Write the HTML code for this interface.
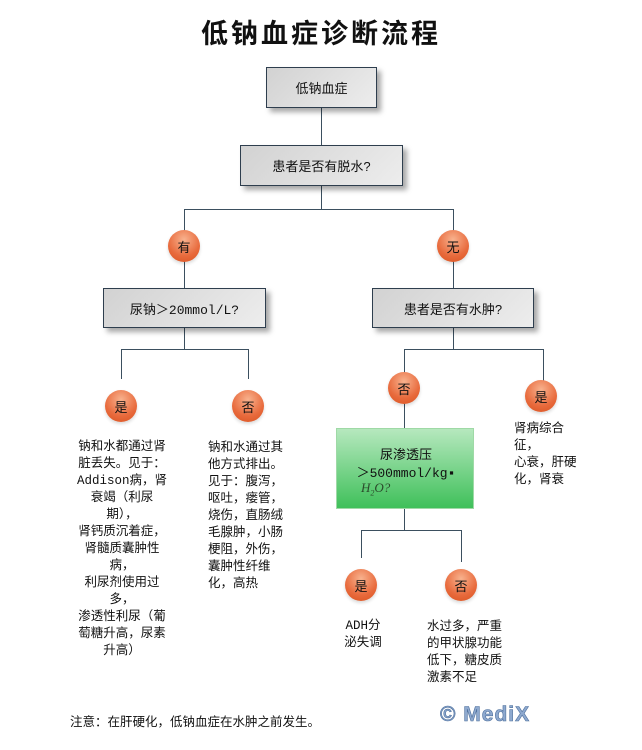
<!DOCTYPE html>
<html><head><meta charset="utf-8"><style>
body{margin:0;width:642px;height:750px;background:#fff;position:relative;overflow:hidden;font-family:"Liberation Sans","Noto Sans CJK SC",sans-serif;color:#111}
.a{position:absolute}
.m{font-family:"Liberation Mono","Noto Sans CJK SC",monospace}
.box{position:absolute;box-sizing:border-box;border:1px solid #2e3e4e;background:linear-gradient(135deg,#d2d2d2,#ededed);box-shadow:4px 4px 5px rgba(0,0,0,0.35);display:flex;align-items:center;justify-content:center;font-size:13px}
.c{position:absolute;width:32px;height:32px;border-radius:50%;background:radial-gradient(circle at 50% 30%,#f8b28e,#e86a3c 60%,#d9521f);display:flex;align-items:center;justify-content:center;font-size:13px;color:#111;box-shadow:0 2px 3px rgba(0,0,0,0.15)}
.l{position:absolute;background:#3b4f5f}
.t{position:absolute;font-size:12.5px;line-height:17px;white-space:nowrap}
</style></head><body>
<div class="a" style="left:0;width:642px;top:12px;text-align:center;font-size:27px;font-weight:bold;letter-spacing:3px">低钠血症诊断流程</div>

<div class="l" style="left:321px;top:107px;width:1px;height:38px"></div>
<div class="l" style="left:321px;top:185px;width:1px;height:24px"></div>
<div class="l" style="left:184px;top:209px;width:270px;height:1px"></div>
<div class="l" style="left:184px;top:209px;width:1px;height:79px"></div>
<div class="l" style="left:453px;top:209px;width:1px;height:79px"></div>
<div class="l" style="left:184px;top:327px;width:1px;height:22px"></div>
<div class="l" style="left:121px;top:349px;width:128px;height:1px"></div>
<div class="l" style="left:121px;top:349px;width:1px;height:30px"></div>
<div class="l" style="left:248px;top:349px;width:1px;height:30px"></div>
<div class="l" style="left:453px;top:327px;width:1px;height:22px"></div>
<div class="l" style="left:404px;top:349px;width:140px;height:1px"></div>
<div class="l" style="left:404px;top:349px;width:1px;height:79px"></div>
<div class="l" style="left:543px;top:349px;width:1px;height:32px"></div>
<div class="l" style="left:404px;top:509px;width:1px;height:21px"></div>
<div class="l" style="left:361px;top:530px;width:101px;height:1px"></div>
<div class="l" style="left:361px;top:530px;width:1px;height:28px"></div>
<div class="l" style="left:461px;top:530px;width:1px;height:32px"></div>

<div class="box" style="left:266px;top:67px;width:111px;height:41px">低钠血症</div>
<div class="box" style="left:240px;top:145px;width:163px;height:41px">患者是否有脱水?</div>
<div class="box m" style="left:103px;top:288px;width:163px;height:40px">尿钠＞20mmol/L?</div>
<div class="box" style="left:372px;top:288px;width:162px;height:40px">患者是否有水肿?</div>
<div class="a" style="left:336px;top:428px;width:138px;height:81px;box-sizing:border-box;border:1px solid #9fd9a6;background:linear-gradient(180deg,#b6e8be,#3fc05a);font-size:13px">
<div class="a" style="left:0;width:138px;top:15px;text-align:center">尿渗透压</div>
<div class="a m" style="left:0;width:138px;top:33px;text-align:center">＞500mmol/kg▪</div>
<div class="a" style="left:24px;top:51px;font-family:'Liberation Serif',serif;font-style:italic;color:#2b4a2b">H<sub style="font-size:8px">2</sub>O?</div>
</div>

<div class="c" style="left:168px;top:230px">有</div>
<div class="c" style="left:437px;top:230px">无</div>
<div class="c" style="left:105px;top:390px">是</div>
<div class="c" style="left:232px;top:390px">否</div>
<div class="c" style="left:388px;top:372px">否</div>
<div class="c" style="left:525px;top:380px">是</div>
<div class="c" style="left:345px;top:569px">是</div>
<div class="c" style="left:445px;top:569px">否</div>

<div class="t m" style="left:64px;top:439px;width:116px;text-align:center">钠和水都通过肾<br>脏丢失。见于：<br>Addison病，肾<br>衰竭（利尿<br>期），<br>肾钙质沉着症，<br>肾髓质囊肿性<br>病，<br>利尿剂使用过<br>多，<br>渗透性利尿（葡<br>萄糖升高，尿素<br>升高）</div>
<div class="t" style="left:208px;top:439px;width:80px">钠和水通过其<br>他方式排出。<br>见于：腹泻，<br>呕吐，瘘管，<br>烧伤，直肠绒<br>毛腺肿，小肠<br>梗阻，外伤，<br>囊肿性纤维<br>化，高热</div>
<div class="t" style="left:514px;top:420px;width:70px">肾病综合<br>征，<br>心衰，肝硬<br>化，肾衰</div>
<div class="t m" style="left:341px;top:618px;width:44px;text-align:center">ADH分<br>泌失调</div>
<div class="t" style="left:427px;top:618px;width:80px">水过多，严重<br>的甲状腺功能<br>低下，糖皮质<br>激素不足</div>

<div class="a" style="left:70px;top:711px;font-size:12.5px">注意：在肝硬化，低钠血症在水肿之前发生。</div>
<div class="a" style="left:440px;top:703px;font-size:21px;font-weight:bold;color:#8ea9cf;letter-spacing:1px;-webkit-text-stroke:0.6px #4d6f9c">© MediX</div>
</body></html>
